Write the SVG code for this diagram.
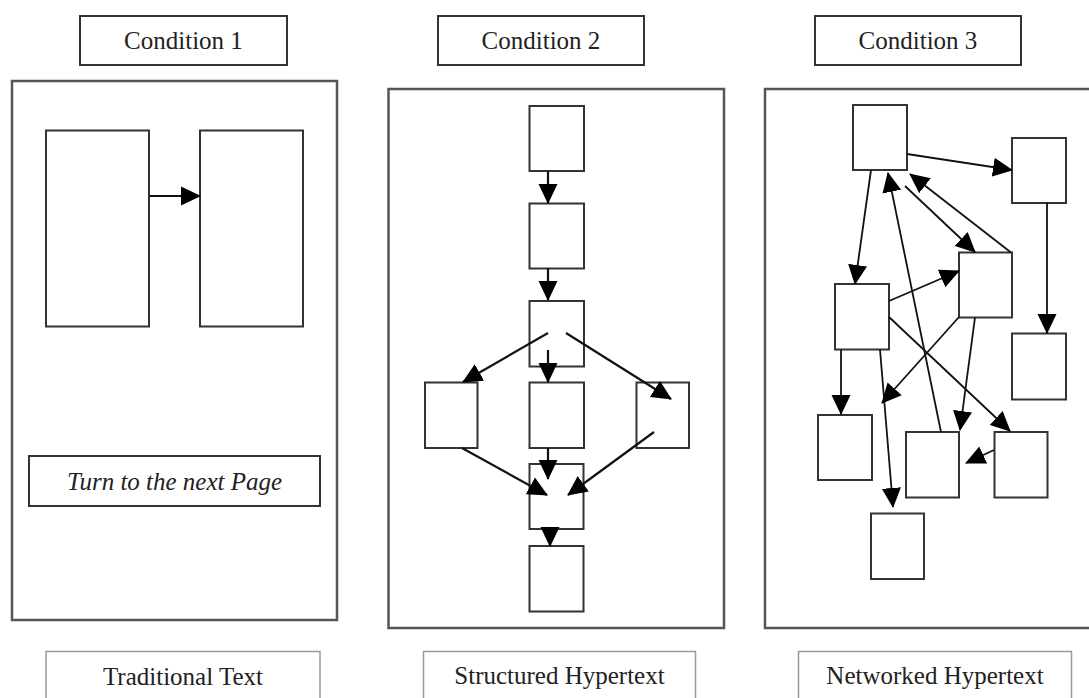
<svg xmlns="http://www.w3.org/2000/svg" width="1089" height="698" viewBox="0 0 1089 698">
<defs>
<style>
.bg{fill:#ffffff}
.hdr{fill:#fff;stroke:#333;stroke-width:2}
.panel{fill:#fff;stroke:#555;stroke-width:2.5}
.lbl{fill:#fff;stroke:#999;stroke-width:1.5}
.node{fill:#fff;stroke:#333;stroke-width:2}
.txt{font-family:'Liberation Serif','Times New Roman',Tinos,'Noto Serif','DejaVu Serif',FreeSerif,Times,serif;font-size:25px;fill:#222;text-anchor:middle}
.it{font-style:italic}
.arr{stroke:#111;stroke-width:2.2;fill:none;marker-end:url(#ah)}
.arr3{stroke:#111;stroke-width:1.8;fill:none;marker-end:url(#ah)}
</style>
<marker id="ah" markerUnits="userSpaceOnUse" markerWidth="20" markerHeight="20" refX="19" refY="10" orient="auto" viewBox="0 0 20 20">
<path d="M0,0.5 L20,10 L0,19.5 z" fill="#000"/>
</marker>
</defs>
<rect class="bg" x="0" y="0" width="1089" height="698"/>

<g id="header1"><rect class="hdr" x="80" y="16" width="207" height="49"/><text class="txt" x="183.5" y="49">Condition 1</text></g>
<g id="header2"><rect class="hdr" x="438" y="16" width="206" height="49"/><text class="txt" x="541" y="49">Condition 2</text></g>
<g id="header3"><rect class="hdr" x="815" y="16" width="206" height="49"/><text class="txt" x="918" y="49">Condition 3</text></g>

<g id="panel1"><rect class="panel" x="12" y="81" width="325" height="539"/></g>
<g id="panel2"><rect class="panel" x="388.5" y="89" width="335.5" height="539"/></g>
<g id="panel3"><rect class="panel" x="765" y="89" width="330" height="539"/></g>

<g id="c1-page-left"><rect class="node" x="46" y="130.5" width="103" height="196"/></g>
<g id="c1-page-right"><rect class="node" x="200" y="130.5" width="103" height="196"/></g>
<g id="c1-turn"><rect class="node" x="29" y="456" width="291" height="50"/><text class="txt it" x="174.5" y="490">Turn to the next Page</text></g>

<g id="c2-n1"><rect class="node" x="529.5" y="106" width="54.5" height="65"/></g>
<g id="c2-n2"><rect class="node" x="529.5" y="203.5" width="54.5" height="65"/></g>
<g id="c2-n3"><rect class="node" x="529.5" y="301" width="54.5" height="65.5"/></g>
<g id="c2-left"><rect class="node" x="425" y="382.5" width="52.5" height="65.5"/></g>
<g id="c2-center"><rect class="node" x="529.5" y="382.5" width="54.5" height="65.5"/></g>
<g id="c2-right"><rect class="node" x="636.5" y="382.5" width="52.5" height="65.5"/></g>
<g id="c2-n5"><rect class="node" x="529.5" y="464" width="54" height="65"/></g>
<g id="c2-n6"><rect class="node" x="529.5" y="546" width="54" height="65.5"/></g>

<g id="c3-a"><rect class="node" x="853" y="105" width="54" height="65"/></g>
<g id="c3-b"><rect class="node" x="1012" y="138" width="54" height="65"/></g>
<g id="c3-c"><rect class="node" x="959" y="252.5" width="53" height="65"/></g>
<g id="c3-d"><rect class="node" x="835" y="284" width="54" height="65.5"/></g>
<g id="c3-e"><rect class="node" x="1012" y="333.5" width="54" height="66"/></g>
<g id="c3-f"><rect class="node" x="818" y="415" width="54" height="65"/></g>
<g id="c3-g"><rect class="node" x="906" y="432" width="53" height="65.5"/></g>
<g id="c3-h"><rect class="node" x="994.5" y="432" width="53" height="65.5"/></g>
<g id="c3-i"><rect class="node" x="871" y="513.5" width="53" height="65.5"/></g>

<g id="label1"><rect class="lbl" x="46" y="651.5" width="274" height="60"/><text class="txt" x="183" y="685">Traditional Text</text></g>
<g id="label2"><rect class="lbl" x="423.5" y="651.5" width="272" height="60"/><text class="txt" x="559.5" y="683.5">Structured Hypertext</text></g>
<g id="label3"><rect class="lbl" x="798.5" y="651.5" width="273" height="60"/><text class="txt" x="935" y="683.5">Networked Hypertext</text></g>

<g id="connectors">
<line class="arr" x1="149" y1="196" x2="200" y2="196"/>

<line class="arr" x1="548" y1="171" x2="548" y2="203"/>
<line class="arr" x1="548" y1="268" x2="548" y2="300"/>
<line class="arr" x1="548" y1="333" x2="463" y2="382"/>
<line class="arr" x1="566" y1="333" x2="671" y2="399"/>
<line class="arr" x1="548" y1="350" x2="548" y2="382"/>
<line class="arr" x1="548" y1="448" x2="548" y2="479"/>
<line class="arr" x1="462" y1="448" x2="547" y2="495"/>
<line class="arr" x1="654" y1="432" x2="568" y2="495"/>
<line class="arr" x1="550" y1="529" x2="550" y2="546"/>

<line class="arr3" x1="907" y1="154" x2="1012" y2="170"/>
<line class="arr3" x1="871" y1="170" x2="855" y2="284"/>
<line class="arr3" x1="941" y1="432" x2="888" y2="173"/>
<line class="arr3" x1="1011" y1="252.5" x2="910" y2="174"/>
<line class="arr3" x1="905" y1="186" x2="975" y2="252"/>
<line class="arr3" x1="889" y1="301" x2="959" y2="271"/>
<line class="arr3" x1="1047" y1="203" x2="1047" y2="333"/>
<line class="arr3" x1="841" y1="349.5" x2="841" y2="414"/>
<line class="arr3" x1="880" y1="349.5" x2="893" y2="507"/>
<line class="arr3" x1="889" y1="317" x2="1010" y2="431"/>
<line class="arr3" x1="959" y1="317" x2="882" y2="403"/>
<line class="arr3" x1="975" y1="317.5" x2="960" y2="430"/>
<line class="arr3" x1="994" y1="450" x2="966" y2="463"/>
</g>
</svg>
